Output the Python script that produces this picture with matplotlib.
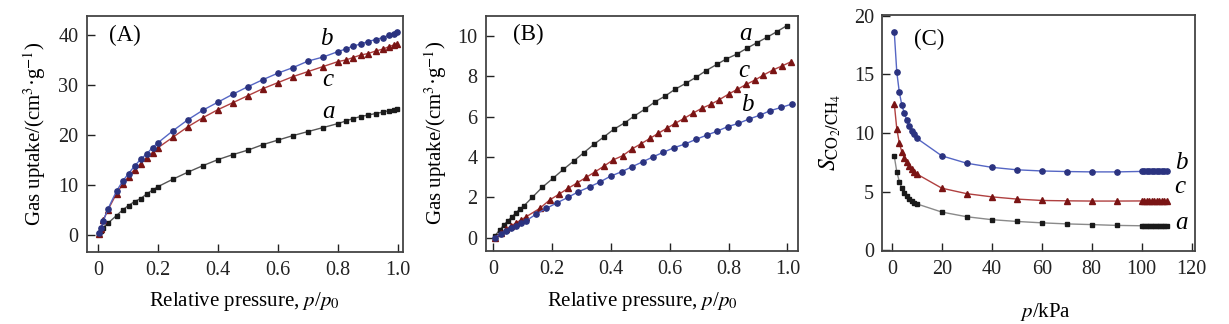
import numpy as np, matplotlib
matplotlib.use("Agg")
import matplotlib.pyplot as plt

plt.rcParams["font.family"] = "serif"
plt.rcParams["font.serif"] = ["Liberation Serif", "DejaVu Serif"]
plt.rcParams["mathtext.fontset"] = "stix"

# ---- panel A: gas uptake (CO2) vs p/p0
xA = [0.002, 0.01, 0.017, 0.033, 0.061, 0.083, 0.101, 0.121, 0.142, 0.161, 0.181, 0.2,
      0.25, 0.3, 0.35, 0.4, 0.45, 0.5, 0.55, 0.6, 0.65, 0.7, 0.75, 0.8, 0.825, 0.85,
      0.875, 0.9, 0.925, 0.95, 0.97, 0.985, 0.997]
A_a = [0.2, 0.9, 1.5, 2.4, 3.9, 5.1, 5.9, 6.7, 7.3, 8.2, 9.0, 9.7, 11.2, 12.6, 13.9, 15.1,
       16.1, 17.0, 18.1, 19.0, 19.9, 20.7, 21.5, 22.3, 22.8, 23.3, 23.7, 24.0, 24.3, 24.6,
       24.9, 25.1, 25.3]
A_b = [0.5, 1.4, 2.9, 5.3, 8.8, 10.9, 12.3, 13.8, 15.2, 16.2, 17.5, 18.5, 20.9, 23.1, 25.0,
       26.6, 28.2, 29.7, 31.1, 32.4, 33.5, 34.8, 35.6, 36.7, 37.2, 37.8, 38.2, 38.7, 39.1,
       39.5, 40.0, 40.3, 40.7]
A_c = [0.3, 1.2, 3.0, 5.1, 8.3, 10.3, 11.7, 13.1, 14.3, 15.5, 16.5, 17.5, 19.6, 21.7, 23.5,
       25.1, 26.5, 27.9, 29.3, 30.5, 31.7, 32.7, 33.7, 34.7, 35.0, 35.5, 36.0, 36.3, 36.8,
       37.2, 37.7, 38.0, 38.3]

# ---- panel B: gas uptake (CH4) vs p/p0
xB_a = [0.005, 0.022, 0.036, 0.05, 0.064, 0.078, 0.092, 0.104, 0.133, 0.167, 0.203, 0.239,
        0.274, 0.308, 0.342, 0.377, 0.41, 0.447, 0.479, 0.516, 0.55, 0.584, 0.618, 0.654,
        0.689, 0.723, 0.76, 0.792, 0.828, 0.862, 0.896, 0.93, 0.964, 0.998]
B_a = [0.08, 0.38, 0.63, 0.84, 1.04, 1.24, 1.44, 1.57, 2.0, 2.5, 2.94, 3.39, 3.8, 4.21, 4.62,
       5.0, 5.37, 5.69, 6.02, 6.37, 6.73, 7.01, 7.35, 7.64, 7.94, 8.27, 8.58, 8.85, 9.09,
       9.38, 9.65, 9.92, 10.2, 10.5]
xB_c = [0.005, 0.027, 0.044, 0.061, 0.078, 0.095, 0.112, 0.158, 0.192, 0.223, 0.254, 0.286,
        0.316, 0.347, 0.377, 0.407, 0.44, 0.471, 0.501, 0.533, 0.561, 0.59, 0.618, 0.649,
        0.678, 0.709, 0.739, 0.769, 0.8, 0.83, 0.86, 0.89, 0.918, 0.95, 0.981, 1.012]
B_c = [0.0, 0.25, 0.41, 0.58, 0.74, 0.88, 1.04, 1.45, 1.87, 2.15, 2.44, 2.72, 2.99, 3.27,
       3.55, 3.85, 4.06, 4.39, 4.64, 4.92, 5.17, 5.42, 5.66, 5.91, 6.16, 6.41, 6.6, 6.84,
       7.11, 7.35, 7.59, 7.81, 8.05, 8.3, 8.5, 8.71]
xB_b = [0.005, 0.027, 0.044, 0.061, 0.078, 0.095, 0.112, 0.146, 0.18, 0.217, 0.254, 0.29,
        0.328, 0.364, 0.399, 0.437, 0.471, 0.508, 0.544, 0.578, 0.615, 0.652, 0.689, 0.726,
        0.762, 0.797, 0.833, 0.87, 0.907, 0.941, 0.979, 1.015]
B_b = [0.0, 0.21, 0.35, 0.46, 0.58, 0.71, 0.84, 1.17, 1.45, 1.73, 2.0, 2.28, 2.52, 2.77,
       3.05, 3.27, 3.51, 3.76, 4.01, 4.23, 4.46, 4.64, 4.87, 5.08, 5.28, 5.5, 5.66, 5.88,
       6.07, 6.29, 6.45, 6.62]

# ---- panel C: CO2/CH4 selectivity vs p
xC = [1, 2, 3, 4, 5, 6, 7, 8, 9, 10, 20, 30, 40, 50, 60, 70, 80, 90,
      100, 101, 102, 103, 104, 105, 106, 107, 108, 109, 110]
C_a = [8.0, 6.7, 5.85, 5.3, 4.9, 4.6, 4.38, 4.18, 4.05, 3.95, 3.25, 2.85, 2.6, 2.45, 2.33,
       2.24, 2.18, 2.11] + [2.08] * 11
C_b = [18.6, 15.2, 13.5, 12.4, 11.7, 11.1, 10.6, 10.2, 9.9, 9.55, 8.05, 7.42, 7.07, 6.86,
       6.76, 6.71, 6.68, 6.68] + [6.72] * 11
C_c = [12.5, 10.35, 9.15, 8.4, 7.9, 7.55, 7.2, 6.92, 6.7, 6.5, 5.29, 4.82, 4.55, 4.36, 4.24,
       4.21, 4.19, 4.19] + [4.2] * 11

MK = dict(a=("s", "#1a1a1a", "#555555"), b=("o", "#2b3380", "#5566c4"),
          c=("^", "#7a1414", "#b04040"))


def draw(ax, x, y, key, ms, lcol=None):
    m, mc, lc = MK[key]
    ax.plot(x, y, color=lcol or lc, lw=1.0, marker=m, ms=ms, mfc=mc, mec=mc, zorder=3)


def style(ax):
    for s in ax.spines.values():
        s.set_color("#444444"); s.set_linewidth(1.3)
    ax.tick_params(direction="in", length=6, width=1, labelsize=14.5, top=False, right=False,
                   colors="#222222")
    ax.tick_params(axis="x", pad=7); ax.tick_params(axis="y", pad=6)


fig = plt.figure(figsize=(12.29, 3.24), dpi=100)
ylab = "Gas uptake/(cm$^{3}$·g$^{-1}$)"
xlab = "Relative pressure, $p$/$p_0$"

axA = fig.add_axes([0.0705, 0.2231, 0.2573, 0.7284])
draw(axA, xA, A_a, "a", 3.3)
draw(axA, xA, A_c, "c", 4.0)
draw(axA, xA, A_b, "b", 3.8)
axA.set_xlim(-0.0387, 1.0157); axA.set_ylim(-3.34, 43.86)
axA.set_xticks([0, 0.2, 0.4, 0.6, 0.8, 1.0]); axA.set_yticks([0, 10, 20, 30, 40])
axA.set_xticklabels(["0", "0.2", "0.4", "0.6", "0.8", "1.0"])
axA.set_xlabel(xlab, fontsize=15); axA.set_ylabel(ylab, fontsize=15)
axA.text(0.121, 0.918, "(A)", transform=axA.transAxes, fontsize=16.5, ha="center", va="center")
for t, (tx, ty) in {"b": (0.76, 39.2), "c": (0.767, 31.0), "a": (0.767, 24.7)}.items():
    axA.text(tx, ty, t, fontsize=18, style="italic", ha="center", va="center")

axB = fig.add_axes([0.3955, 0.2262, 0.2541, 0.7253])
draw(axB, xB_a, B_a, "a", 3.3)
draw(axB, xB_c, B_c, "c", 4.0)
draw(axB, xB_b, B_b, "b", 3.8)
axB.set_xlim(-0.024, 1.037); axB.set_ylim(-0.64, 10.99)
axB.set_xticks([0, 0.2, 0.4, 0.6, 0.8, 1.0]); axB.set_yticks([0, 2, 4, 6, 8, 10])
axB.set_xticklabels(["0", "0.2", "0.4", "0.6", "0.8", "1.0"])
axB.set_xlabel(xlab, fontsize=15); axB.set_ylabel(ylab, fontsize=15)
axB.text(0.134, 0.922, "(B)", transform=axB.transAxes, fontsize=16.5, ha="center", va="center")
for t, (tx, ty) in {"a": (0.856, 10.1), "c": (0.85, 8.27), "b": (0.862, 6.57)}.items():
    axB.text(tx, ty, t, fontsize=18, style="italic", ha="center", va="center")

axC = fig.add_axes([0.7179, 0.2262, 0.2544, 0.7265])
draw(axC, xC, C_a, "a", 3.3, lcol="#8a8a8a")
draw(axC, xC, C_c, "c", 4.0)
draw(axC, xC, C_b, "b", 3.8)
axC.set_xlim(-3.8, 121.3); axC.set_ylim(-0.05, 20.05)
axC.set_xticks(range(0, 121, 20)); axC.set_yticks([0, 5, 10, 15, 20])
axC.set_xlabel("$p$/kPa", fontsize=15)
axC.set_ylabel(r"$S_{\mathrm{CO_2/CH_4}}$", fontsize=17)
axC.text(0.151, 0.899, "(C)", transform=axC.transAxes, fontsize=16.5, ha="center", va="center")
for t, (tx, ty) in {"b": (116, 7.43), "c": (115.3, 5.42), "a": (116, 2.34)}.items():
    axC.text(tx, ty, t, fontsize=18, style="italic", ha="center", va="center")

for ax, xl, yl in [(axA, (0.497, -0.213), (-0.163, 0.5)),
                   (axB, (0.501, -0.217), (-0.163, 0.5)),
                   (axC, (0.523, -0.259), (-0.167, 0.5))]:
    style(ax)
    ax.xaxis.set_label_coords(*xl); ax.xaxis.label.set_va("center")
    ax.yaxis.set_label_coords(*yl); ax.yaxis.label.set_va("center")

fig.savefig("out.png", dpi=100)
